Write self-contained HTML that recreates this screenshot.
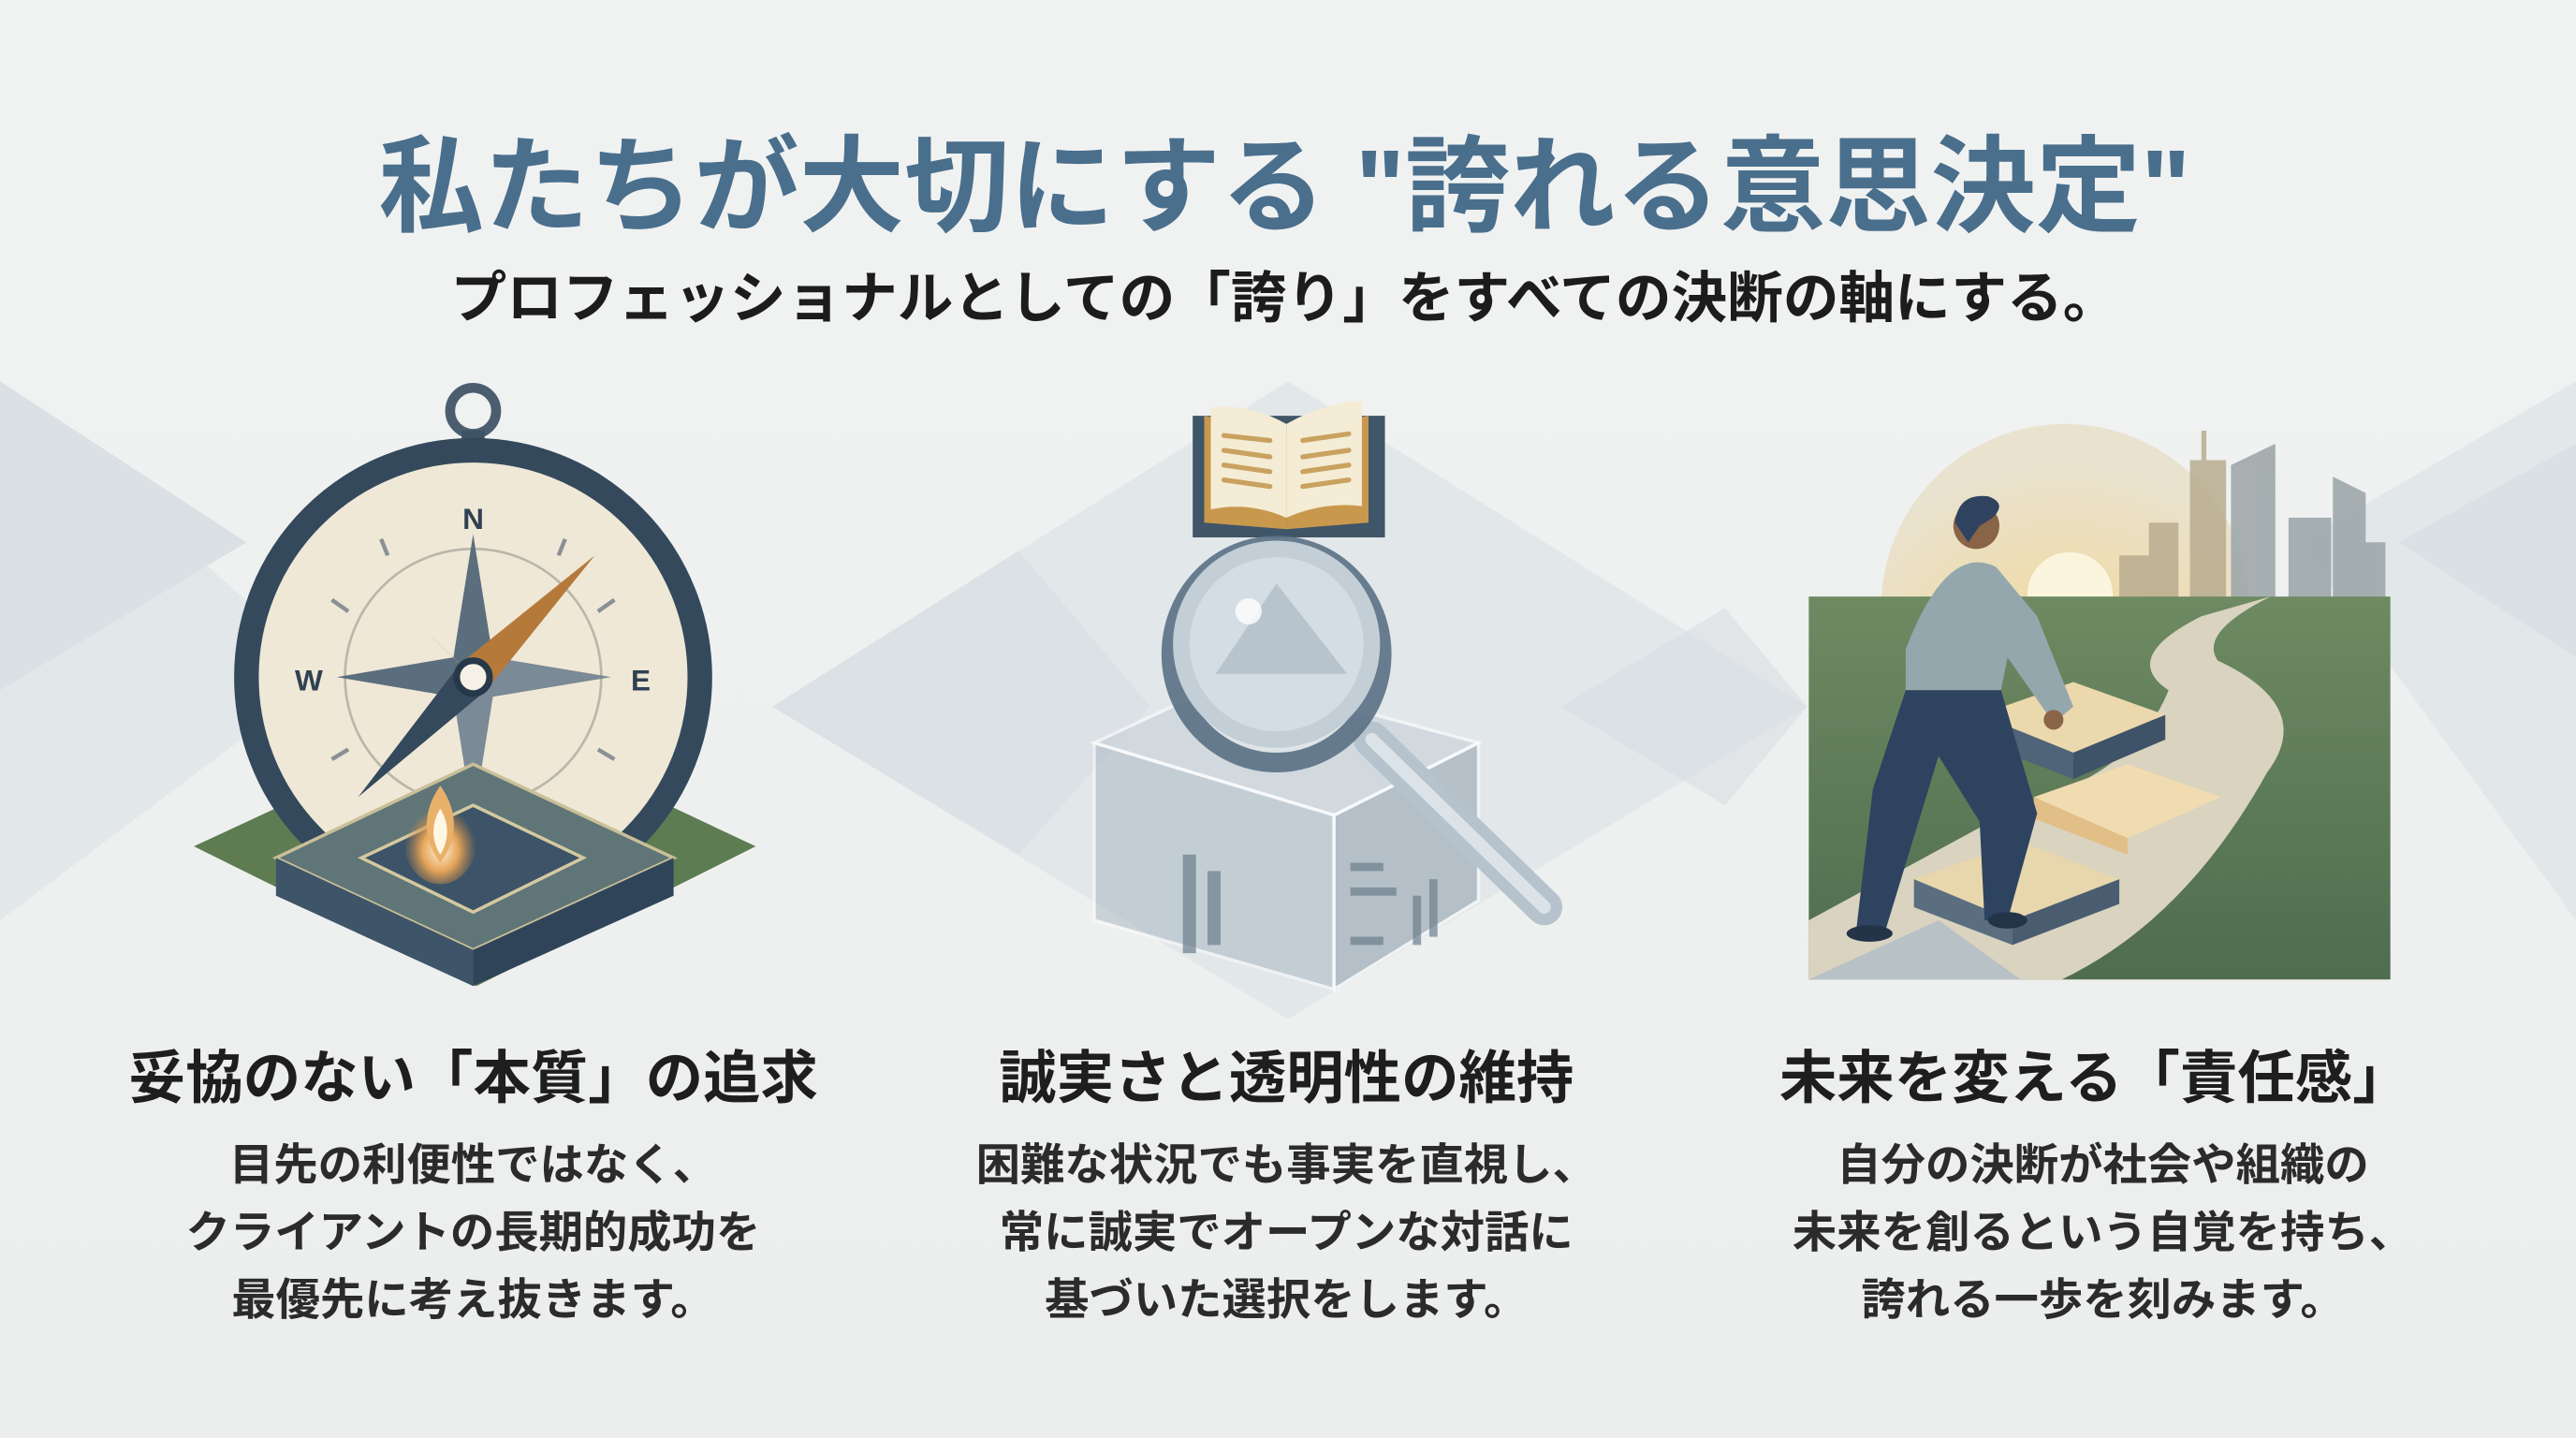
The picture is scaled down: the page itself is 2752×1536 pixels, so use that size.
<!DOCTYPE html>
<html><head><meta charset="utf-8">
<style>
html,body{margin:0;padding:0;background:#eef0f0;}
svg{display:block;}
text{font-family:"Liberation Sans","Noto Sans CJK JP",sans-serif;font-weight:bold;text-anchor:middle;}
</style></head>
<body>
<svg width="2752" height="1536" viewBox="0 0 1568 875" preserveAspectRatio="none" xmlns="http://www.w3.org/2000/svg">
<defs>
<linearGradient id="bg" x1="0" y1="0" x2="0" y2="1">
<stop offset="0" stop-color="#f1f2f2"/><stop offset="1" stop-color="#eceeee"/></linearGradient>
<radialGradient id="sun" cx="0.5" cy="0.8" r="0.7">
<stop offset="0" stop-color="#fbf1d2"/><stop offset="0.5" stop-color="#efdcad"/><stop offset="1" stop-color="#e9e2cf"/></radialGradient>
<linearGradient id="grass" x1="0" y1="0" x2="0" y2="1">
<stop offset="0" stop-color="#6e8a62"/><stop offset="1" stop-color="#4f6d4f"/></linearGradient>
<radialGradient id="flame" cx="0.5" cy="0.6" r="0.5">
<stop offset="0" stop-color="#fff3da"/><stop offset="0.5" stop-color="#e6a55a"/><stop offset="1" stop-color="#c9863e" stop-opacity="0"/></radialGradient>
</defs>
<rect width="1568" height="875" fill="url(#bg)"/>
<g fill="#dfe5e9" opacity="0.8">
<polygon points="0,232 200,410 0,560"/>
<polygon points="0,232 150,330 0,420" fill="#d6dde2"/>
<polygon points="470,430 784,232 1100,430 784,620"/>
<polygon points="1568,232 1400,330 1568,560"/>
<polygon points="1568,270 1460,330 1568,400" fill="#d6dde2"/>
</g>
<polygon points="470,430 620,335 700,430 620,520" fill="#d8dee3" opacity="0.6"/>
<polygon points="950,430 1050,370 1100,430 1050,490" fill="#d8dee3" opacity="0.6"/>

<text x="782" y="136" font-size="64" fill="#4a6f8c">私たちが大切にする "誇れる意思決定"</text>
<text x="782" y="193" font-size="34" fill="#1c1c1c">プロフェッショナルとしての「誇り」をすべての決断の軸にする。</text>

<polygon points="118,515 290,435 460,515 290,600" fill="#5e7c52"/>
<circle cx="288" cy="250" r="14" fill="none" stroke="#4a5e70" stroke-width="6"/>
<rect x="281" y="262" width="14" height="22" fill="#3d5366"/>
<circle cx="288" cy="412" r="138" fill="#efe8d6" stroke="#34495c" stroke-width="15"/>
<circle cx="288" cy="412" r="78" fill="none" stroke="#b9b6aa" stroke-width="1.5"/>
<g stroke="#8a9094" stroke-width="2.5">
<line x1="232" y1="328" x2="236" y2="338"/><line x1="344" y1="328" x2="340" y2="338"/>
<line x1="202" y1="365" x2="212" y2="372"/><line x1="374" y1="365" x2="364" y2="372"/>
<line x1="202" y1="462" x2="212" y2="456"/><line x1="374" y1="462" x2="364" y2="456"/>
</g>
<polygon points="288,325 300,400 288,412 276,400" fill="#5b6e7d"/>
<polygon points="288,500 300,424 288,412 276,424" fill="#7a8a96"/>
<polygon points="205,412 276,400 288,412 276,424" fill="#5b6e7d"/>
<polygon points="372,412 300,400 288,412 300,424" fill="#7a8a96"/>
<polygon points="240,365 282,406 294,418" fill="#9aa6ae"/>
<polygon points="336,365 294,406 282,418" fill="#9aa6ae"/>
<polygon points="362,338 296,420 280,404" fill="#b5793a"/>
<polygon points="218,485 296,420 280,404" fill="#34495c"/>
<circle cx="288" cy="412" r="10" fill="#f5f1e6" stroke="#26384a" stroke-width="4"/>
<text x="288" y="322" font-size="18" fill="#2f4152">N</text>
<text x="188" y="420" font-size="18" fill="#2f4152">W</text>
<text x="390" y="420" font-size="18" fill="#2f4152">E</text>
<polygon points="168,522 288,465 410,522 288,578" fill="#5f7577" stroke="#c9bf98" stroke-width="2"/>
<polygon points="168,522 288,578 288,600 168,545" fill="#3e5468"/>
<polygon points="410,522 288,578 288,600 410,545" fill="#2f4459"/>
<polygon points="220,522 288,490 355,522 288,555" fill="#3d5468" stroke="#d4c9a0" stroke-width="2"/>
<ellipse cx="268" cy="512" rx="22" ry="26" fill="url(#flame)"/>
<path d="M268,478 C280,495 278,512 268,525 C258,512 256,495 268,478Z" fill="#e9b06a"/>
<path d="M268,492 C274,502 273,512 268,520 C263,512 262,502 268,492Z" fill="#fff6e4"/>

<rect x="726" y="253" width="117" height="74" fill="#3f5568"/>
<path d="M733,253 L783,262 L783,322 L733,318Z" fill="#c8984d"/>
<path d="M833,253 L783,262 L783,322 L833,318Z" fill="#c8984d"/>
<path d="M737,248 Q760,245 783,258 L783,315 Q760,305 737,310Z" fill="#f4ecd4"/>
<path d="M829,244 Q806,245 783,258 L783,315 Q806,305 829,308Z" fill="#f4ecd4"/>
<g stroke="#c9a25f" stroke-width="3" stroke-linecap="round">
<line x1="745" y1="265" x2="773" y2="268"/><line x1="745" y1="274" x2="773" y2="278"/><line x1="745" y1="283" x2="773" y2="287"/><line x1="745" y1="292" x2="773" y2="296"/>
<line x1="793" y1="268" x2="821" y2="264"/><line x1="793" y1="278" x2="821" y2="274"/><line x1="793" y1="287" x2="821" y2="283"/><line x1="793" y1="296" x2="821" y2="292"/>
</g>
<polygon points="666,452 752,412 900,452 812,496" fill="#c4ced5" opacity="0.55" stroke="#fff" stroke-width="2"/>
<polygon points="666,452 812,496 812,602 666,560" fill="#9fb0bb" opacity="0.45" stroke="#fff" stroke-width="2"/>
<polygon points="812,496 900,452 900,548 812,602" fill="#8799a6" opacity="0.5" stroke="#fff" stroke-width="2"/>
<g fill="#6d7f8c" opacity="0.7">
<rect x="720" y="520" width="8" height="60"/><rect x="735" y="530" width="8" height="45"/>
<rect x="822" y="525" width="20" height="5"/><rect x="822" y="540" width="28" height="5"/><rect x="822" y="570" width="20" height="5"/>
<rect x="860" y="545" width="5" height="30"/><rect x="870" y="535" width="5" height="35"/>
</g>
<line x1="835" y1="450" x2="940" y2="552" stroke="#b6c3cc" stroke-width="22" stroke-linecap="round"/>
<line x1="835" y1="450" x2="940" y2="552" stroke="#dbe3e8" stroke-width="8" stroke-linecap="round"/>
<ellipse cx="777" cy="398" rx="64" ry="66" fill="#e0e6ea" stroke="#5a7185" stroke-width="12" opacity="0.9"/>
<ellipse cx="777" cy="392" rx="58" ry="58" fill="#d4dde3" stroke="#c3ced6" stroke-width="10"/>
<polygon points="777,355 820,410 740,410" fill="#b7c4cd"/>
<circle cx="760" cy="372" r="8" fill="#fff" opacity="0.8"/>

<circle cx="1257" cy="370" r="112" fill="url(#sun)"/>
<circle cx="1260" cy="362" r="26" fill="#fcf5de"/>
<g fill="#b8ad8f" opacity="0.85">
<rect x="1290" y="338" width="20" height="26"/><rect x="1308" y="318" width="18" height="46"/>
<rect x="1333" y="280" width="22" height="84"/><rect x="1340" y="262" width="3" height="20"/>
</g>
<g fill="#9ea7aa" opacity="0.9">
<polygon points="1358,283 1385,270 1385,364 1358,364"/>
<rect x="1393" y="315" width="26" height="49"/>
<polygon points="1420,290 1440,300 1440,364 1420,364"/>
<rect x="1430" y="330" width="22" height="34"/>
</g>
<rect x="1101" y="363" width="354" height="233" fill="url(#grass)"/>
<path d="M1101,560 L1230,490 Q1300,470 1320,420 Q1290,400 1340,375 L1382,363 Q1338,385 1350,402 Q1410,430 1380,470 Q1330,560 1255,596 L1101,596Z" fill="#d9d3c0"/>
<polygon points="1101,596 1180,560 1230,596" fill="#b8c1c6"/>
<polygon points="1165,535 1230,512 1290,535 1225,560" fill="#e8d7ad"/>
<polygon points="1165,535 1225,560 1225,575 1165,552" fill="#5a6e80"/>
<polygon points="1225,560 1290,535 1290,550 1225,575" fill="#4a5d70"/>
<polygon points="1238,485 1295,465 1352,485 1295,510" fill="#f0dcb0"/>
<polygon points="1238,485 1295,510 1295,520 1238,498" fill="#e2bf86"/>
<polygon points="1205,435 1262,415 1318,435 1262,458" fill="#ebd8ac"/>
<polygon points="1205,435 1262,458 1262,474 1205,452" fill="#4f6478"/>
<polygon points="1262,458 1318,435 1318,450 1262,474" fill="#3f5368"/>
<path d="M1160,395 Q1185,330 1215,345 L1240,375 L1262,430 L1250,440 L1222,400 L1218,420 L1160,420Z" fill="#94a7ad"/>
<path d="M1160,420 L1218,420 L1240,495 L1222,560 L1208,560 L1205,500 L1180,460 L1148,565 L1130,565 L1140,480Z" fill="#2e4360"/>
<ellipse cx="1138" cy="568" rx="14" ry="5" fill="#233449"/>
<ellipse cx="1222" cy="560" rx="12" ry="5" fill="#233449"/>
<circle cx="1203" cy="320" r="14" fill="#8a6447"/>
<path d="M1190,318 Q1192,300 1210,302 Q1222,306 1213,315 L1205,320 L1198,330Z" fill="#2f4360"/>
<circle cx="1250" cy="438" r="6" fill="#8a6447"/>

<g fill="#1e1e1e">
<text x="288" y="668" font-size="35">妥協のない「本質」の追求</text>
<text x="783" y="668" font-size="35">誠実さと透明性の維持</text>
<text x="1275" y="668" font-size="35">未来を変える「責任感」</text>
</g>
<g fill="#2b2b2b" font-size="27">
<text x="288" y="718">目先の利便性ではなく、</text>
<text x="288" y="759">クライアントの長期的成功を</text>
<text x="288" y="800">最優先に考え抜きます。</text>
<text x="783" y="718">困難な状況でも事実を直視し、</text>
<text x="783" y="759">常に誠実でオープンな対話に</text>
<text x="783" y="800">基づいた選択をします。</text>
<text x="1280" y="718">自分の決断が社会や組織の</text>
<text x="1280" y="759">未来を創るという自覚を持ち、</text>
<text x="1280" y="800">誇れる一歩を刻みます。</text>
</g>
</svg>
</body></html>
